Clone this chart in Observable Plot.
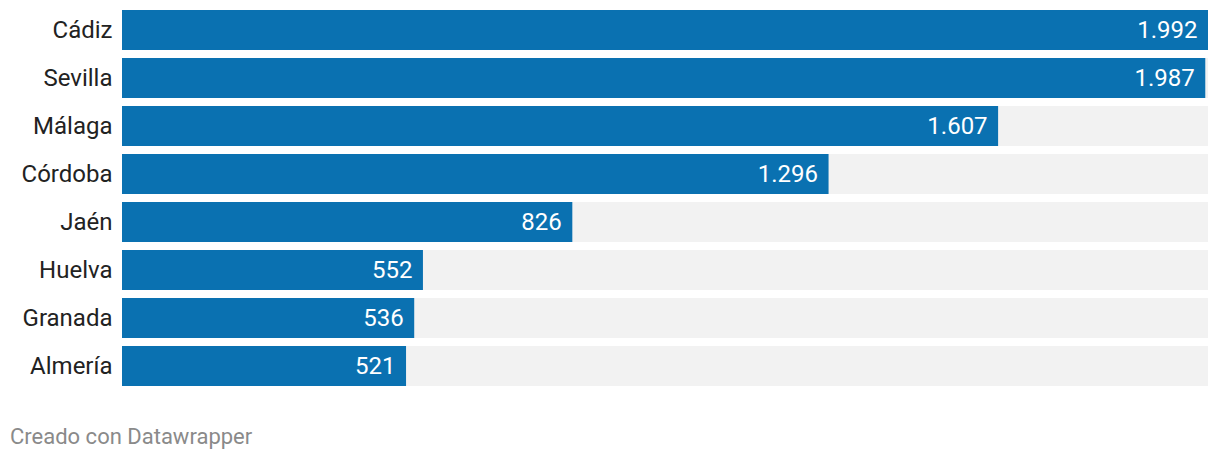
<!DOCTYPE html>
<html>
<head>
<meta charset="utf-8">
<script src="https://cdn.jsdelivr.net/npm/d3@7"></script>
<script src="https://cdn.jsdelivr.net/npm/@observablehq/plot@0.6"></script>
<style>
  body { margin: 0; background: #fff; font-family: Roboto, sans-serif; }
  #footer { font-family: Roboto, sans-serif; font-size: 22px; line-height: 26px; color: #8a8a8a; padding-left: 10px; margin-top: 28px; }
</style>
</head>
<body>
<div id="chart"></div>
<div id="footer">Creado con Datawrapper</div>
<script>
const provincias = ["Cádiz", "Sevilla", "Málaga", "Córdoba", "Jaén", "Huelva", "Granada", "Almería"];
const valores = [1992, 1987, 1607, 1296, 826, 552, 536, 521];
const maximo = 1992;

const data = provincias.map((p, i) => ({provincia: p, valor: valores[i], fondo: maximo}));
const fmt = d3.formatLocale({decimal: ",", thousands: ".", grouping: [3], currency: ["", "€"]}).format(",");

const chart = Plot.plot({
  width: 1220,
  height: 396,
  marginTop: 10,
  marginBottom: 10,
  marginLeft: 122,
  marginRight: 12,
  style: {fontFamily: "Roboto, sans-serif", fontSize: "24px", background: "#fff"},
  x: {domain: [0, maximo], axis: null},
  y: {domain: provincias, padding: 1/6, paddingOuter: 0, label: null, tickSize: 0, tickPadding: 10},
  marks: [
    Plot.barX(data, {x: "fondo", y: "provincia", fill: "#f2f2f2"}),
    Plot.barX(data, {x: "valor", y: "provincia", fill: "#0a71b1"}),
    Plot.text(data, {x: "valor", y: "provincia", text: d => fmt(d.valor), textAnchor: "end", dx: -11, fill: "#fff", fontSize: 24}),
    Plot.axisY({tickSize: 0, tickPadding: 10, fontSize: 24, color: "#222", label: null})
  ]
});
document.getElementById("chart").appendChild(chart);
</script>
</body>
</html>
